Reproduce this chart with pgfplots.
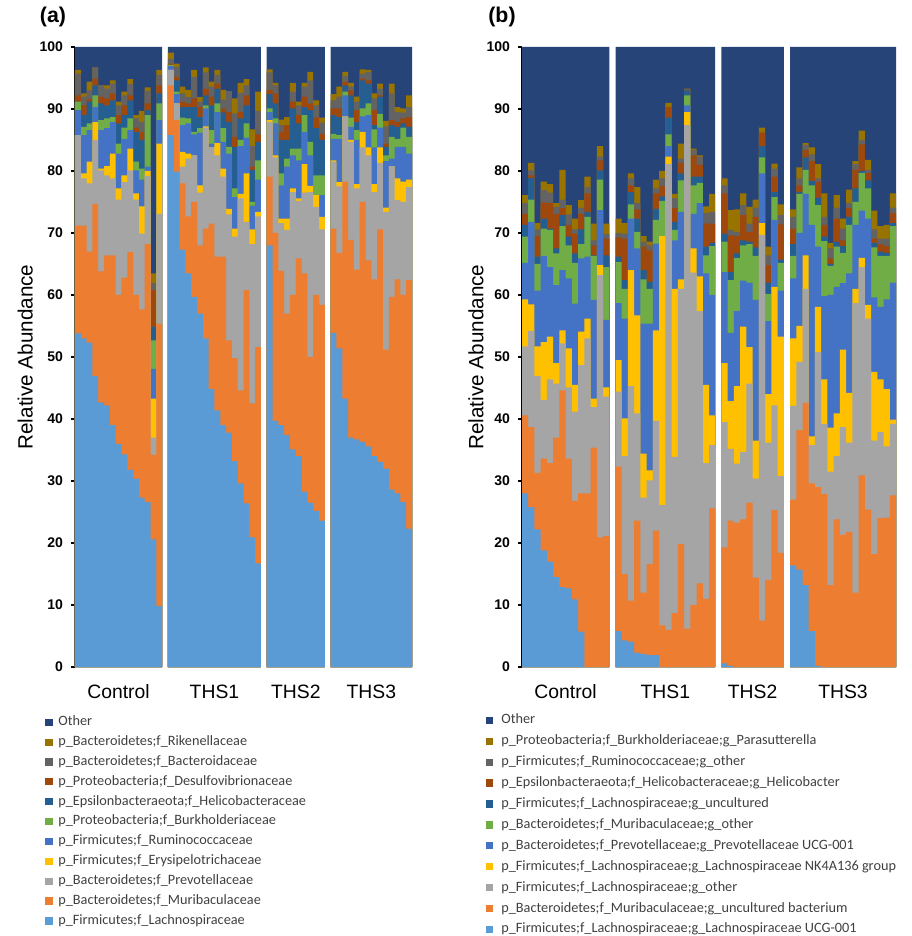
\documentclass[border=0pt]{standalone}
\usepackage{fontspec}
\setmainfont{Liberation Sans}
\newfontfamily\legfont{Carlito}
\usepackage{pgfplots}
\usepackage{pgfplotstable}
\pgfplotsset{compat=1.18}

\definecolor{cOt}{RGB}{38,68,120}
\definecolor{cRi}{RGB}{153,115,0}
\definecolor{cBa}{RGB}{99,99,99}
\definecolor{cDe}{RGB}{158,72,14}
\definecolor{cHe}{RGB}{37,94,145}
\definecolor{cBu}{RGB}{112,173,71}
\definecolor{cRu}{RGB}{68,114,196}
\definecolor{cEr}{RGB}{255,192,0}
\definecolor{cPr}{RGB}{165,165,165}
\definecolor{cMu}{RGB}{237,125,49}
\definecolor{cLb}{RGB}{91,155,213}
\definecolor{legtext}{RGB}{64,64,64}

% cumulative tops of each layer, bottom layer first (family level)
\pgfplotstableread{
x lb mu pr er ru bu he de ba ri ot
1 53.8 71.2 85.8 85.8 89.8 91.2 91.2 92.2 95.7 96.3 100
2 53.0 71.2 78.8 79.6 85.8 87.1 89.0 90.6 92.0 92.5 100
3 52.3 67.0 78.0 81.5 86.6 87.7 91.2 91.6 93.0 94.4 100
4 46.9 74.7 85.0 87.9 90.3 92.2 93.8 94.9 96.7 96.7 100
5 42.7 63.8 80.1 80.4 86.6 88.2 90.9 92.0 93.8 93.8 100
6 42.2 66.4 79.3 80.8 86.9 88.5 90.6 91.7 93.3 93.8 100
7 39.0 66.4 78.8 82.8 87.9 88.7 91.4 92.5 94.1 94.6 100
8 36.0 60.0 75.4 77.2 82.8 84.4 87.7 89.0 90.6 91.2 100
9 34.3 62.8 78.2 79.3 85.2 87.0 89.0 90.6 92.2 92.8 100
10 31.8 66.9 80.1 83.6 86.6 88.5 91.4 92.2 94.0 94.8 100
11 30.4 60.0 75.4 76.4 80.1 81.5 86.3 87.0 88.5 89.0 100
12 27.3 57.7 69.9 74.3 78.6 80.4 85.0 86.3 87.9 89.7 100
13 26.6 68.2 79.2 80.0 80.7 89.0 89.8 90.9 92.9 93.5 100
14 20.6 34.2 37.0 43.3 48.1 52.7 54.9 60.8 61.9 63.5 100
15 9.8 55.4 73.1 84.4 88.2 90.9 92.5 93.8 95.5 96.3 100
17 85.8 93.8 96.3 96.3 96.9 97.1 97.1 97.3 98.1 99.1 100
18 79.9 88.2 90.9 90.9 92.4 92.8 94.6 95.2 96.8 97.3 100
19 67.3 78.0 80.7 83.1 87.4 88.6 90.3 91.2 92.5 93.6 100
20 63.5 72.7 82.0 82.8 87.7 88.5 90.3 90.9 91.9 93.1 100
21 59.7 75.0 82.5 82.5 85.9 86.3 90.3 91.7 95.2 96.3 100
22 57.0 68.0 76.5 77.7 86.2 86.9 88.7 90.3 91.2 91.9 100
23 53.0 70.7 87.0 87.2 90.1 90.6 92.2 93.3 95.9 96.7 100
24 44.8 71.5 83.8 83.8 84.4 86.6 90.6 92.0 93.6 94.4 100
25 41.4 66.2 82.5 84.5 89.5 90.9 93.3 94.1 95.5 96.3 100
26 39.0 66.2 79.1 80.4 84.7 86.9 89.4 90.1 91.5 93.1 100
27 37.8 52.7 73.0 73.9 82.8 83.9 87.9 89.5 92.9 92.9 100
28 33.2 49.8 69.4 70.7 75.8 77.2 83.9 85.5 89.3 91.7 100
29 29.6 44.6 75.6 76.3 84.0 85.0 88.5 89.5 92.6 94.2 100
30 26.4 60.8 71.8 79.6 85.4 87.7 90.6 92.2 93.8 94.8 100
31 20.9 42.5 68.2 70.6 74.4 75.0 80.2 80.7 84.0 86.7 100
32 16.7 51.6 72.7 73.4 78.6 81.7 84.7 85.9 89.7 92.8 100
34 68.0 79.1 87.9 88.2 89.5 90.1 92.4 93.1 95.9 96.4 100
35 39.7 70.0 82.2 82.5 87.7 88.5 90.9 92.5 93.8 94.2 100
36 39.0 63.9 71.6 72.3 77.7 79.6 85.0 86.3 87.4 88.3 100
37 37.4 57.0 70.5 72.3 80.7 82.0 85.0 87.4 87.4 88.7 100
38 35.1 60.0 76.6 77.2 82.5 83.6 90.1 91.2 92.8 94.2 100
39 34.0 65.9 75.2 75.6 81.7 83.6 87.7 89.0 90.6 91.2 100
40 28.3 63.5 76.5 81.1 86.3 89.0 90.3 92.0 93.6 94.2 100
41 26.5 50.0 76.6 77.6 82.5 84.7 89.8 90.9 94.6 96.0 100
42 25.2 60.0 74.2 76.1 76.1 79.3 86.9 88.6 90.6 91.4 100
43 23.6 58.4 70.6 72.6 76.1 79.3 85.0 86.0 87.8 88.6 100
45 53.9 70.7 81.5 81.7 85.2 86.0 89.0 90.1 91.4 92.4 100
46 51.4 66.8 77.5 78.2 85.2 85.8 88.7 90.1 92.0 93.6 100
47 43.3 78.3 88.8 88.8 92.2 92.8 93.8 94.4 95.3 96.0 100
48 37.0 68.9 84.7 85.0 87.1 88.6 92.2 93.0 93.6 94.2 100
49 36.7 64.1 77.2 77.9 85.0 86.6 87.9 89.8 91.2 92.0 100
50 36.3 75.0 83.8 86.3 88.8 90.1 94.6 94.9 95.7 96.4 100
51 35.6 65.6 82.5 83.8 89.0 90.9 94.1 94.6 96.0 96.3 100
52 34.0 62.5 76.6 77.9 83.8 86.7 87.4 89.8 91.7 92.5 100
53 33.1 70.6 81.3 83.8 87.0 89.2 92.0 92.2 93.3 94.1 100
54 32.0 51.2 73.4 74.1 81.6 82.5 83.9 84.4 87.2 88.1 100
55 28.6 59.7 80.8 80.8 82.0 85.5 87.4 88.2 92.5 94.1 100
56 28.0 62.5 75.3 78.8 83.9 85.2 87.1 87.9 89.5 90.3 100
57 26.6 60.0 75.0 78.3 83.9 87.0 87.7 88.5 89.4 90.1 100
58 22.3 62.4 77.4 78.6 82.8 85.5 87.1 88.7 90.3 92.2 100
}\dataA

% cumulative tops of each layer, bottom layer first (genus level)
\pgfplotstableread{
x lb mu pr er ru bu he de ba ri ot
1 28.0 40.6 51.7 59.3 65.2 69.4 71.3 73.1 74.8 76.1 100
2 25.8 38.7 54.2 58.5 71.8 75.4 78.9 79.3 80.1 81.3 100
3 22.2 31.3 46.9 51.7 60.7 65.0 66.2 69.5 70.6 71.6 100
4 18.8 33.6 43.1 52.4 66.3 70.7 72.3 74.9 76.9 78.3 100
5 17.0 32.9 46.4 53.3 64.5 70.5 70.7 74.8 76.5 77.9 100
6 14.5 37.0 45.7 49.0 61.6 66.7 67.5 73.1 74.2 74.8 100
7 12.9 44.6 52.2 54.3 64.0 71.1 72.9 74.0 75.4 80.2 100
8 12.7 33.6 45.1 51.4 62.7 68.0 69.4 71.3 73.0 74.5 100
9 10.9 26.8 41.2 45.5 58.6 65.2 66.7 69.9 70.6 72.3 100
10 5.7 28.0 48.7 54.1 65.9 68.2 70.6 73.1 74.1 75.3 100
11 0 28.0 53.0 56.2 66.2 72.6 73.4 76.4 77.4 79.1 100
12 0 35.4 41.9 43.3 59.2 66.3 66.4 68.0 68.8 71.5 100
13 0 20.9 63.2 64.8 73.7 78.6 80.1 81.7 82.3 84.0 100
14 0 21.1 43.6 45.1 56.0 64.5 66.4 69.1 69.8 71.5 100
16 5.8 32.3 44.4 49.5 58.7 65.3 66.2 69.3 70.0 72.3 100
17 4.3 15.0 34.0 40.1 56.2 61.0 62.4 69.1 69.9 71.6 100
18 4.1 10.7 45.3 64.0 72.3 74.6 76.6 77.7 78.8 79.6 100
19 2.3 23.6 40.9 56.7 67.5 70.2 72.3 73.8 74.8 77.4 100
20 2.1 12.0 27.3 34.4 55.4 62.5 64.0 67.8 68.6 69.5 100
21 1.9 16.6 30.1 31.7 55.4 61.0 62.1 67.2 68.0 68.6 100
22 1.9 22.0 39.7 54.3 68.3 72.1 73.9 76.4 77.2 78.6 100
23 0 6.7 26.1 69.5 69.5 75.2 75.9 77.5 78.8 80.0 100
24 0 6.0 81.1 82.3 84.0 85.9 88.6 90.3 90.3 91.0 100
25 0 8.7 33.9 61.0 68.8 70.5 71.8 74.0 75.6 76.3 100
26 0 19.8 61.0 62.5 73.4 78.5 79.6 81.3 82.0 84.4 100
27 0 6.2 87.4 89.5 90.6 92.2 93.0 93.1 93.2 93.3 100
28 0 10.0 63.6 67.5 73.1 77.7 79.1 82.5 83.4 83.6 100
29 0 13.5 57.4 63.0 74.8 78.1 79.1 81.0 82.3 82.5 100
30 0 11.0 32.9 45.5 63.5 66.4 67.8 71.5 73.2 74.3 100
31 0 25.6 35.8 40.6 60.0 67.9 68.4 71.5 73.4 76.3 100
33 0.6 19.3 39.5 49.0 63.7 68.6 69.9 76.4 77.7 78.8 100
34 0.2 23.6 35.2 42.9 53.9 62.4 63.7 69.6 70.5 73.7 100
35 0 23.3 32.8 45.3 57.4 66.0 66.7 69.5 70.2 73.8 100
36 0 23.8 34.7 54.9 62.3 68.0 68.8 72.9 74.5 76.4 100
37 0 26.5 45.7 51.6 62.0 68.2 68.6 70.2 71.5 74.2 100
38 0 14.4 30.4 36.5 59.2 66.3 67.7 72.6 74.1 75.4 100
39 0 7.5 69.7 71.6 79.6 82.2 84.0 86.2 86.2 87.0 100
40 0 14.0 36.2 44.0 55.8 60.2 62.0 64.8 66.4 67.8 100
41 0 25.3 42.2 61.3 72.1 75.8 76.6 79.1 80.4 81.2 100
42 0 18.4 30.8 53.3 60.7 65.2 65.7 71.4 72.9 74.6 100
44 16.4 27.0 42.1 53.0 62.7 66.3 68.2 70.7 72.6 73.8 100
45 15.7 38.2 49.2 55.0 70.0 76.3 76.6 77.7 78.8 80.6 100
46 13.2 42.6 61.0 66.4 76.3 80.2 82.2 83.4 84.2 84.5 100
47 5.8 29.6 35.8 37.2 71.3 77.7 78.4 81.6 82.7 83.8 100
48 0.2 29.0 50.8 58.1 67.8 74.5 75.7 78.3 78.8 81.1 100
49 0 27.9 39.2 46.4 59.8 68.7 69.4 71.3 72.6 76.4 100
50 0 13.2 31.5 38.6 60.0 64.7 65.0 65.9 67.5 68.4 100
51 0 23.8 34.0 40.9 61.3 67.8 68.6 72.3 74.1 76.1 100
52 0 21.3 38.7 51.2 61.9 66.8 67.9 68.8 70.7 72.3 100
53 0 21.8 36.2 44.2 63.5 71.3 72.6 74.0 74.8 77.0 100
54 0 12.0 58.7 61.0 71.3 75.0 77.2 80.2 81.1 81.6 100
55 0 30.9 64.5 66.0 73.6 79.7 80.0 84.3 85.0 86.5 100
56 0 25.4 56.2 58.4 72.3 77.2 78.5 79.7 80.2 81.8 100
57 0 18.2 36.5 47.6 59.6 67.7 68.4 69.1 70.6 73.6 100
58 0 24.0 37.9 46.4 58.1 66.3 67.0 68.2 69.1 71.1 100
59 0 24.1 35.6 44.8 59.3 66.3 66.8 67.9 69.1 71.3 100
60 0 27.7 39.2 39.9 62.0 71.1 71.6 73.2 74.1 76.4 100
}\dataB

\pgfplotsset{
  relab/.style={
    scale only axis, height=465pt,
    ymin=0, ymax=100, ytick={0,10,...,100},
    enlargelimits=false,
    ybar, bar width=1,
    every axis plot post/.append style={bar shift=0pt, bar width=1, draw=none},
    axis lines*=left, axis line style={-},
    x axis line style={draw=none},
    y axis line style={line width=2.2pt, black},
    tick align=outside, major tick length=3pt,
    ytick style={line width=1.5pt, black},
    xtick style={draw=none},
    /pgf/number format/assume math mode=true,
    yticklabel style={font=\bfseries\fontsize{10.5}{12}\selectfont, xshift=-2.5pt},
    xticklabel style={font=\fontsize{14.5}{17}\selectfont, anchor=base, yshift=-20.5pt},
    ylabel={Relative Abundance},
    ylabel style={font=\fontsize{15.5}{18}\selectfont, anchor=center},
    legend image code/.code={\fill[#1] (0pt,-2.7pt) rectangle (5.8pt,2.7pt);},
    legend cell align=left,
  }
}

\begin{document}
\begin{tikzpicture}
\useasboundingbox (0,0) rectangle (684pt,702pt);

\node[font=\bfseries\fontsize{16}{18}\selectfont, anchor=center] at (39.75pt,689.25pt) {(a)};
\node[font=\bfseries\fontsize{16}{18}\selectfont, anchor=center] at (376.5pt,689.25pt) {(b)};

\begin{axis}[relab,
  at={(56.25pt,201.75pt)}, anchor=south west,
  width=252.75pt,
  xmin=0.5, xmax=58.5,
  xtick={8,24.5,38.5,51.5},
  xticklabels={Control,THS1,THS2,THS3},
  ylabel style={at={(axis description cs:-0.148,0.5)}},
  legend style={draw=none, fill=none, inner sep=0pt,
    at={(axis description cs:-0.089,-0.0758)}, anchor=north west,
    font=\legfont\fontsize{10.7}{12}\selectfont, text=legtext,
    row sep=2.9pt,
    nodes={inner sep=1pt, text height=7.5pt, text depth=2.5pt},
    /tikz/every odd column/.append style={column sep=3pt}},
]
\addplot[fill=cOt] table[x=x,y=ot] {\dataA};
\addplot[fill=cRi] table[x=x,y=ri] {\dataA};
\addplot[fill=cBa] table[x=x,y=ba] {\dataA};
\addplot[fill=cDe] table[x=x,y=de] {\dataA};
\addplot[fill=cHe] table[x=x,y=he] {\dataA};
\addplot[fill=cBu] table[x=x,y=bu] {\dataA};
\addplot[fill=cRu] table[x=x,y=ru] {\dataA};
\addplot[fill=cEr] table[x=x,y=er] {\dataA};
\addplot[fill=cPr] table[x=x,y=pr] {\dataA};
\addplot[fill=cMu] table[x=x,y=mu] {\dataA};
\addplot[fill=cLb] table[x=x,y=lb] {\dataA};
\legend{Other,
p\_Bacteroidetes;f\_Rikenellaceae,
p\_Bacteroidetes;f\_Bacteroidaceae,
p\_Proteobacteria;f\_Desulfovibrionaceae,
p\_Epsilonbacteraeota;f\_Helicobacteraceae,
p\_Proteobacteria;f\_Burkholderiaceae,
p\_Firmicutes;f\_Ruminococcaceae,
p\_Firmicutes;f\_Erysipelotrichaceae,
p\_Bacteroidetes;f\_Prevotellaceae,
p\_Bacteroidetes;f\_Muribaculaceae,
p\_Firmicutes;f\_Lachnospiraceae}
\end{axis}

\begin{axis}[relab,
  at={(391.5pt,201.75pt)}, anchor=south west,
  width=280.5pt,
  xmin=0.5, xmax=60.5,
  xtick={7.5,23.5,37.5,52},
  xticklabels={Control,THS1,THS2,THS3},
  ylabel style={at={(axis description cs:-0.123,0.5)}},
  legend style={draw=none, fill=none, inner sep=0pt,
    at={(axis description cs:-0.098,-0.0726)}, anchor=north west,
    font=\legfont\fontsize{10.7}{12}\selectfont, text=legtext,
    row sep=3.7pt,
    nodes={inner sep=1pt, text height=7.5pt, text depth=2.5pt},
    /tikz/every odd column/.append style={column sep=5pt}},
]
\addplot[fill=cOt] table[x=x,y=ot] {\dataB};
\addplot[fill=cRi] table[x=x,y=ri] {\dataB};
\addplot[fill=cBa] table[x=x,y=ba] {\dataB};
\addplot[fill=cDe] table[x=x,y=de] {\dataB};
\addplot[fill=cHe] table[x=x,y=he] {\dataB};
\addplot[fill=cBu] table[x=x,y=bu] {\dataB};
\addplot[fill=cRu] table[x=x,y=ru] {\dataB};
\addplot[fill=cEr] table[x=x,y=er] {\dataB};
\addplot[fill=cPr] table[x=x,y=pr] {\dataB};
\addplot[fill=cMu] table[x=x,y=mu] {\dataB};
\addplot[fill=cLb] table[x=x,y=lb] {\dataB};
\legend{Other,
p\_Proteobacteria;f\_Burkholderiaceae;g\_Parasutterella,
p\_Firmicutes;f\_Ruminococcaceae;g\_other,
p\_Epsilonbacteraeota;f\_Helicobacteraceae;g\_Helicobacter,
p\_Firmicutes;f\_Lachnospiraceae;g\_uncultured,
p\_Bacteroidetes;f\_Muribaculaceae;g\_other,
p\_Bacteroidetes;f\_Prevotellaceae;g\_Prevotellaceae UCG-001,
p\_Firmicutes;f\_Lachnospiraceae;g\_Lachnospiraceae NK4A136 group,
p\_Firmicutes;f\_Lachnospiraceae;g\_other,
p\_Bacteroidetes;f\_Muribaculaceae;g\_uncultured bacterium,
p\_Firmicutes;f\_Lachnospiraceae;g\_Lachnospiraceae UCG-001}
\end{axis}
\end{tikzpicture}
\end{document}
